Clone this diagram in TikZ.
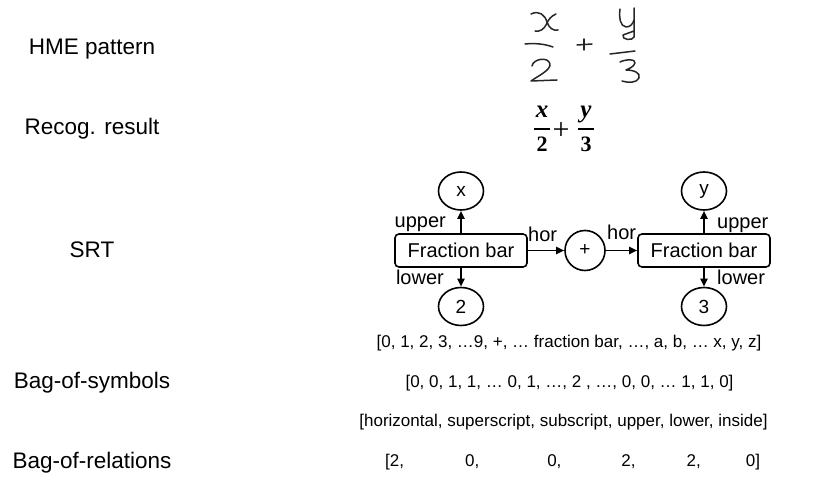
\documentclass[tikz,border=0pt]{standalone}
\usepackage{fontspec}
\setmainfont{Liberation Sans}
\newfontfamily\serifb{Liberation Serif}
\usetikzlibrary{arrows.meta,calc,shapes.geometric}
\begin{document}
\begin{tikzpicture}[x=1pt,y=-1pt,
  lbl/.style={font=\fontsize{22.5}{26}\selectfont, anchor=base, inner sep=0},
  row/.style={font=\fontsize{17}{20}\selectfont, anchor=base, inner sep=0},
  bx/.style={draw, line width=1.6pt, rounded corners=4pt, minimum width=132pt, minimum height=33pt, inner sep=0, font=\fontsize{20}{24}\selectfont},
  el/.style={draw, ellipse, line width=1.6pt, minimum width=45pt, minimum height=38pt, inner sep=0, font=\fontsize{19}{20}\selectfont},
  ci/.style={draw, circle, line width=1.6pt, minimum size=40pt, inner sep=0, font=\fontsize{19}{20}\selectfont},
  ar/.style={-{Triangle[length=8pt,width=7pt]}, line width=1.8pt},
  edgelbl/.style={font=\fontsize{20}{24}\selectfont, inner sep=0},
  hw/.style={line width=1.5pt, line cap=round, line join=round, draw=black!85},
  recog/.style={font=\serifb\bfseries\fontsize{22}{24}\selectfont, inner sep=0, anchor=base},
]
\useasboundingbox (0,0) rectangle (839,492);

% left labels
\node[lbl] (l1) at (92,55) {HME pattern};
\node[lbl] (l2) at (92,135) {Recog. result};
\node[lbl] (l3) at (92,258) {SRT};
\node[lbl] (l4) at (92,388) {Bag-of-symbols};
\node[lbl] (l5) at (92,468) {Bag-of-relations};

% handwritten expression
\draw[hw] (531,14) .. controls (539,10) and (545,15) .. (547,22) .. controls (549,28) and (553,31) .. (558,30);
\draw[hw] (556,14) .. controls (551,16) and (548,20) .. (546,25) .. controls (544,29) and (540,32) .. (535,31);
\draw[hw] (525,44) .. controls (535,43) and (545,44) .. (553,47);
\draw[hw] (532,66) .. controls (533,59) and (548,56) .. (550,64) .. controls (551,70) and (538,76) .. (531,81) -- (557,80);
\draw[hw] (577,45) -- (592,44);
\draw[hw] (584,39) -- (584,50);
\draw[hw] (620,9) .. controls (619,18) and (620,26) .. (626,27) .. controls (630,27) and (633,24) .. (634,20);
\draw[hw] (634,8) -- (634,37) .. controls (633,41) and (621,40) .. (623,35) -- (634,31);
\draw[hw] (610,54) -- (635,51);
\draw[hw] (620,62) .. controls (626,59) and (636,59) .. (635,63) .. controls (634,67) and (628,69) .. (626,70) .. controls (634,70) and (641,73) .. (639,78) .. controls (637,83) and (628,83) .. (622,81);

% recognition result
\node[recog, font=\serifb\bfseries\itshape\fontsize{25}{26}\selectfont] (rx) at (542,118) {x};
\draw[line width=2.2pt] (534,129) -- (550,129);
\node[recog] (r2n) at (542,152) {2};
\node[recog, font=\serifb\fontsize{30}{30}\selectfont, anchor=center] (rp) at (561,131) {+};
\node[recog, font=\serifb\bfseries\itshape\fontsize{25}{26}\selectfont] (ry) at (586,118) {y};
\draw[line width=2.2pt] (578,129) -- (594,129);
\node[recog] (r3n) at (586,152) {3};

% SRT
\node[el] (nx) at (461,191) {x};
\node[bx] (fb1) at (461,250.5) {Fraction bar};
\node[el] (n2) at (461,306.5) {2};
\node[ci] (plus) at (585,250.5) {+};
\node[bx] (fb2) at (704,250.5) {Fraction bar};
\node[el] (ny) at (704,191) {y};
\node[el] (n3) at (704,306.5) {3};

\draw[ar] (fb1.north) -- (nx.south);
\draw[ar] (fb1.south) -- (n2.north);
\draw[ar] (fb1.east) -- (plus.west);
\draw[ar] (plus.east) -- (fb2.west);
\draw[ar] (fb2.north) -- (ny.south);
\draw[ar] (fb2.south) -- (n3.north);

\node[edgelbl, anchor=base east] (lu1) at (446,228) {upper};
\node[edgelbl, anchor=base east] (ll1) at (444,284) {lower};
\node[edgelbl, anchor=base west] (lh1) at (528,242) {hor};
\node[edgelbl, anchor=base west] (lh2) at (607,240) {hor};
\node[edgelbl, anchor=base west] (lu2) at (717,229) {upper};
\node[edgelbl, anchor=base west] (ll2) at (717,284) {lower};

% bags
\node[row] (b1) at (569,347) {[0, 1, 2, 3, …9, +, … fraction bar, …, a, b, … x, y, z]};
\node[row] (b2) at (569.5,387) {[0, 0, 1, 1, … 0, 1, …, 2 , …, 0, 0, … 1, 1, 0]};
\node[row] (b3) at (563.5,426) {[horizontal, superscript, subscript, upper, lower, inside]};
\node[row, anchor=base west] (b4) at (385,466) {[2,\hspace{61pt}0,\hspace{68pt}0,\hspace{60pt}2,\hspace{51pt}2,\hspace{45pt}0]};
\end{tikzpicture}
\end{document}
